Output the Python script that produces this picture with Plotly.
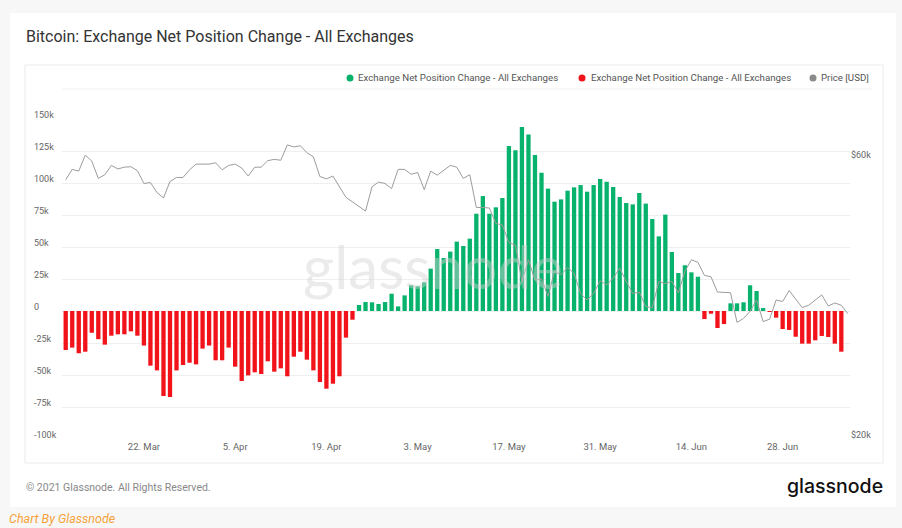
import math
import pandas as pd
import plotly.graph_objects as go

# ---------------- data ----------------
start_date = "2021-03-10"
# Exchange net position change (BTC, thousands), one value per day from 10 Mar 2021
net_change_k = [
    -30.5, -28.6, -33.0, -31.8, -17.0, -22.0, -26.3, -19.3, -18.2, -18.2,
    -15.9, -19.3, -27.0, -42.7, -46.4, -66.4, -67.2, -46.4, -42.2, -40.4,
    -41.7, -29.4, -27.0, -38.5, -38.5, -28.6, -43.5, -54.7, -50.3, -47.9,
    -49.2, -39.3, -47.4, -44.8, -51.0, -35.7, -31.8, -38.0, -46.4, -55.5,
    -60.7, -56.8, -51.0, -20.8, -6.8, 4.7, 7.0, 6.8, 5.5, 7.0,
    13.5, 3.6, 12.2, 20.1, 19.3, 22.4, 33.1, 48.4, 41.4, 46.4,
    54.2, 50.8, 56.5, 76.0, 89.8, 76.0, 81.0, 88.3, 128.9, 125.5,
    143.8, 137.8, 121.9, 108.1, 95.6, 85.4, 87.2, 94.0, 96.6, 98.4,
    93.2, 98.4, 103.1, 101.0, 96.9, 89.1, 84.4, 83.3, 92.2, 83.9,
    71.9, 58.3, 75.3, 46.1, 29.7, 35.7, 30.2, 26.8, -6.3, -2.1,
    -13.3, -10.2, 6.0, 6.0, 6.8, 20.1, 15.6, 2.3, -0.4, -5.2,
    -14.1, -14.8, -20.1, -25.5, -25.5, -22.9, -19.5, -20.3, -25.5, -31.8,
]
# Price [USD] in thousands, one value per day from 10 Mar 2021 (one more day than bars)
price_k = [
    55.3, 57.6, 57.2, 60.9, 59.5, 55.6, 56.4, 58.5, 57.7, 58.1,
    58.2, 57.3, 54.5, 54.7, 52.6, 51.5, 54.9, 55.8, 55.8, 57.5,
    58.8, 58.8, 58.8, 59.1, 57.5, 58.5, 58.8, 57.9, 56.1, 58.1,
    58.1, 59.6, 59.9, 59.7, 63.4, 62.9, 63.2, 61.5, 60.5, 56.0,
    55.5, 56.1, 53.7, 51.6, 50.7, 49.8, 48.9, 53.8, 54.8, 54.5,
    53.4, 57.6, 57.6, 56.5, 56.9, 53.2, 57.2, 56.3, 57.3, 58.5,
    58.1, 55.6, 56.4, 49.6, 49.6, 49.5, 46.6, 46.3, 43.2, 42.8,
    37.1, 40.4, 37.3, 37.5, 35.0, 38.6, 38.1, 39.2, 38.3, 35.4,
    34.5, 35.4, 37.2, 36.6, 37.6, 39.1, 37.1, 35.4, 35.6, 33.6,
    33.5, 37.1, 36.8, 37.1, 35.5, 38.6, 40.4, 40.0, 38.0, 37.8,
    35.6, 35.6, 35.5, 31.6, 32.1, 33.0, 34.5, 31.7, 32.0, 34.5,
    34.3, 35.8, 34.7, 33.5, 33.8, 34.5, 35.2, 33.7, 34.1, 33.8,
    32.7,
]
x_tick_dates = ["2021-03-22", "2021-04-05", "2021-04-19", "2021-05-03",
                "2021-05-17", "2021-05-31", "2021-06-14", "2021-06-28"]
x_tick_text = ["22. Mar", "5. Apr", "19. Apr", "3. May",
               "17. May", "31. May", "14. Jun", "28. Jun"]
y_tick_vals = [-100000, -75000, -50000, -25000, 0, 25000, 50000, 75000, 100000, 125000, 150000]
y_tick_text = ["-100k", "-75k", "-50k", "-25k", "0", "25k", "50k", "75k", "100k", "125k", "150k"]
y2_tick_vals = [20000, 60000]
y2_tick_text = ["$20k", "$60k"]
series_name = "Exchange Net Position Change - All Exchanges"
price_name = "Price [USD]"
legend_names = [series_name, series_name, price_name]

# ---------------- derived ----------------
net_change = [v * 1000 for v in net_change_k]
price = [v * 1000 for v in price_k]
bar_dates = pd.date_range(start_date, periods=len(net_change), freq="D")
price_dates = pd.date_range(start_date, periods=len(price), freq="D")
pos = [v if v >= 0 else None for v in net_change]
neg = [v if v < 0 else None for v in net_change]

GREEN = "#07b26c"
RED = "#f2121a"
GREY = "#9c9c9c"
legend_colors = [GREEN, RED, "#8a8a8a"]
FONT = "Roboto, Inter, sans-serif"

W, H = 902, 528
ML, MR, MT, MB = 30, 30, 60, 40
PW = W - ML - MR
PH = H - MT - MB


def px(x):
    return (x - ML) / PW


def py(y):
    return (H - MB - y) / PH


fig = go.Figure()
fig.add_trace(go.Bar(x=bar_dates, y=pos, marker=dict(color=GREEN, line=dict(width=0)),
                     name=series_name, showlegend=False))
fig.add_trace(go.Bar(x=bar_dates, y=neg, marker=dict(color=RED, line=dict(width=0)),
                     name=series_name, showlegend=False))
fig.add_trace(go.Scatter(x=price_dates, y=price, yaxis="y2", mode="lines",
                         line=dict(color=GREY, width=1), name=price_name, showlegend=False))
# carrier for the left label axis
fig.add_trace(go.Scatter(x=[bar_dates[0]], y=[0], yaxis="y3", mode="markers",
                         marker=dict(opacity=0), showlegend=False, hoverinfo="skip"))

y2lo = math.log10(20000)
y2hi = y2lo + 0.5452

fig.update_layout(
    width=W, height=H,
    margin=dict(l=ML, r=MR, t=MT, b=MB, autoexpand=False),
    paper_bgcolor="#f7f7f7",
    plot_bgcolor="rgba(0,0,0,0)",
    font=dict(family=FONT, size=9, color="#666"),
    barmode="overlay",
    bargap=0.34,
    showlegend=False,
    xaxis=dict(domain=[px(62), px(850)], type="date",
               range=["2021-03-09 10:20", "2021-07-08 08:00"],
               tickvals=x_tick_dates, ticktext=x_tick_text,
               showgrid=False, zeroline=False, showline=False, ticks="",
               tickfont=dict(size=9.5, color="#666")),
    yaxis=dict(domain=[py(439), py(119)], range=[-100000, 150000],
               tickvals=y_tick_vals, showticklabels=False,
               showgrid=True, gridcolor="#efefef", gridwidth=1,
               zeroline=False, showline=False, ticks=""),
    yaxis2=dict(overlaying="y", side="right", anchor="x", type="log",
                range=[y2lo, y2hi], tickvals=y2_tick_vals, ticktext=y2_tick_text,
                showgrid=False, zeroline=False, showline=False, ticks="",
                tickfont=dict(size=9, color="#666"), ticklabelshift=-4),
    yaxis3=dict(overlaying="y", anchor="free", position=px(33), side="right",
                range=[-100000, 150000], tickvals=y_tick_vals, ticktext=y_tick_text,
                showgrid=False, zeroline=False, showline=False, ticks="",
                tickfont=dict(size=9, color="#666"), ticklabelshift=-4),
    hovermode="x",
)

shapes = [
    dict(type="rect", xref="paper", yref="paper", x0=px(10), x1=px(896), y0=py(507), y1=py(13),
         fillcolor="white", line=dict(width=0), layer="below"),
    dict(type="rect", xref="paper", yref="paper", x0=px(25), x1=px(883), y0=py(463), y1=py(65),
         fillcolor="white", line=dict(color="#ebebeb", width=1), layer="below"),
    dict(type="line", xref="paper", yref="paper", x0=px(62), x1=px(872), y0=py(89), y1=py(89),
         line=dict(color="#f3f3f3", width=1), layer="below"),
]

annotations = [
    dict(text="Bitcoin: Exchange Net Position Change - All Exchanges", x=px(24), y=py(37),
         xref="paper", yref="paper", xanchor="left", yanchor="middle", showarrow=False,
         font=dict(family=FONT, size=16, color="#333")),
    dict(text="© 2021 Glassnode. All Rights Reserved.", x=px(24), y=py(487),
         xref="paper", yref="paper", xanchor="left", yanchor="middle", showarrow=False,
         font=dict(family=FONT, size=10.5, color="#888")),
    dict(text="glassnode", x=px(885), y=py(486), xref="paper", yref="paper",
         xanchor="right", yanchor="middle", showarrow=False,
         font=dict(family="Inter, Lato, sans-serif", size=19.5, color="#111", weight=500)),
    dict(text="glassnode", x=px(433), y=py(266), xref="paper", yref="paper",
         xanchor="center", yanchor="middle", showarrow=False,
         font=dict(family="Lato, Inter, sans-serif", size=60, color="rgba(210,210,210,0.45)")),
    dict(text="Chart By Glassnode", x=px(7), y=py(528), xref="paper", yref="paper",
         xanchor="left", yanchor="bottom", showarrow=False,
         font=dict(family=FONT, size=12.5, color="#f6a33a", style="italic")),
]

# legend: dots + labels
legend_dot_x = [350, 582, 813]
legend_text_x = [356, 589, 819]
for name, col, dx, tx in zip(legend_names, legend_colors, legend_dot_x, legend_text_x):
    shapes.append(dict(type="circle", xref="paper", yref="paper",
                       x0=px(dx - 3.5), x1=px(dx + 3.5), y0=py(78 + 3.5), y1=py(78 - 3.5),
                       fillcolor=col, line=dict(width=0)))
    annotations.append(dict(text=name, x=px(tx), y=py(78), xref="paper", yref="paper",
                            xanchor="left", yanchor="middle", showarrow=False,
                            font=dict(family=FONT, size=9.7, color="#555")))

fig.update_layout(shapes=shapes, annotations=annotations)

fig.write_html(
    "out.html",
    config={"displayModeBar": False},
    post_script="document.body.style.margin='0';document.body.style.overflow='hidden';",
)
